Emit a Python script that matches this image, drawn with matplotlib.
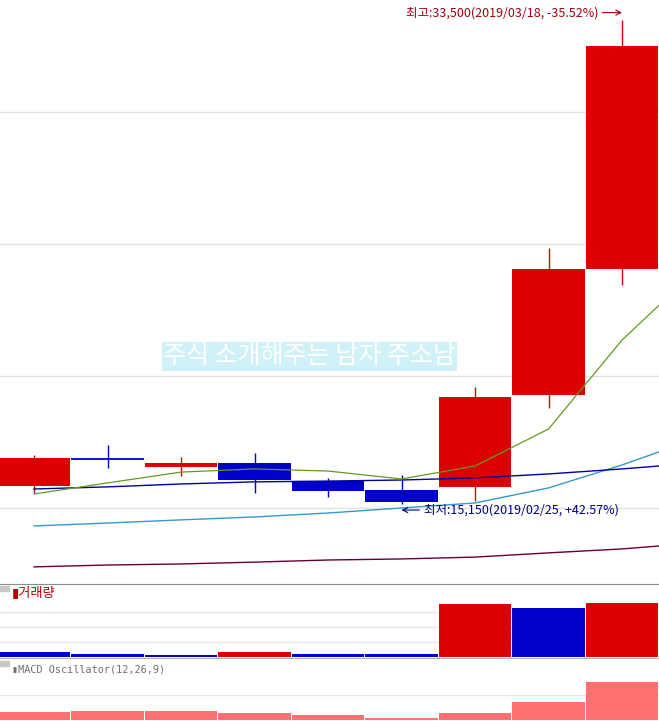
import matplotlib
matplotlib.use("Agg")
import matplotlib.pyplot as plt
from matplotlib.patches import Rectangle
from matplotlib.transforms import offset_copy

# weekly candles, 2019/01/21 .. 2019/03/18
weeks = ["2019/01/21", "2019/01/28", "2019/02/04", "2019/02/11", "2019/02/18",
         "2019/02/25", "2019/03/04", "2019/03/11", "2019/03/18"]
opens = [15850, 16850, 16550, 16700, 16020, 15680, 15800, 19280, 24050]
closes = [16900, 16850, 16700, 16060, 15650, 15230, 19200, 24050, 32500]
highs = [17000, 17400, 16950, 17100, 16150, 16250, 19600, 24850, 33500]
lows = [15550, 16500, 16200, 15550, 15400, 15150, 15250, 18800, 23450]
prev_close = 16950
last_price = 21600

# moving averages (last value belongs to the following week, off screen)
ma5 = [15530, 15950, 16360, 16480, 16400, 16100, 16590, 17990, 21360, 23980]
ma20 = [15720, 15800, 15910, 15990, 16020, 16060, 16140, 16290, 16480, 16700]
ma60 = [14320, 14430, 14550, 14660, 14810, 15000, 15190, 15760, 16630, 17610]
ma120 = [12770, 12840, 12880, 12950, 13030, 13070, 13140, 13300, 13450, 13670]

# volume in thousand shares
volumes = [100, 60, 40, 100, 60, 60, 1060, 980, 1080]
prev_volume = 120

macd_osc = [160, 180, 180, 140, 110, 40, 140, 360, 760]

UP = "#DD0000"
DOWN = "#0000C8"
W, H = 659, 721


def main() -> int:
    plt.rcParams["font.family"] = ["Noto Sans CJK KR", "DejaVu Sans"]
    fig = plt.figure(figsize=(W / 100, H / 100), dpi=100)
    fig.patch.set_facecolor("white")

    ax = fig.add_axes([0, 137 / H, 1, 584 / H])
    ax_v = fig.add_axes([0, 63 / H, 1, 74 / H])
    ax_m = fig.add_axes([0, 0, 1, 63 / H])

    xlim = (-34 / 73.5, 625 / 73.5)
    for a in (ax, ax_v, ax_m):
        a.set_xlim(*xlim)
        a.tick_params(length=0, labelleft=False, labelbottom=False)
        a.set_xticks([])
        for s in a.spines.values():
            s.set_visible(False)
        a.set_axisbelow(True)

    # price panel
    ax.set_ylim(12121, 34243)
    ax.set_yticks([15000, 20000, 25000, 30000])
    ax.grid(axis="y", color="#E2E2E2", lw=1)

    prev = prev_close
    for i, (o, c, h, l) in enumerate(zip(opens, closes, highs, lows)):
        if c > o:
            color = UP
        elif c < o:
            color = DOWN
        else:
            color = UP if c > prev else DOWN
        ax.vlines(i, l, h, color=color, lw=1, zorder=2)
        if o == c:
            ax.hlines(c, i - 0.49, i + 0.49, color=color, lw=1.3, zorder=3)
        else:
            ax.bar(i, abs(c - o), bottom=min(o, c), width=0.98, color=color, lw=0, zorder=3)
        prev = c

    xs = range(len(ma5))
    ax.plot(xs, ma120, color="#660033", lw=1, zorder=4)
    ax.plot(xs, ma60, color="#3399CC", lw=1, zorder=4)
    ax.plot(xs, ma20, color="#0000A0", lw=1, zorder=4)
    ax.plot(xs, ma5, color="#669922", lw=0.9, zorder=5)

    # high / low marks
    hi_idx = highs.index(max(highs))
    hi = highs[hi_idx]
    hi_pct = (last_price - hi) / hi * 100
    hi_color = "#A00010"
    ax.annotate(f"최고:{hi:,}({weeks[hi_idx]}, {hi_pct:.2f}%)",
                xy=(hi_idx, hi), xycoords=offset_copy(ax.transData, fig=fig, y=7, units="dots"),
                xytext=(-24, 0), textcoords="offset pixels", ha="right", va="center",
                fontsize=9, color=hi_color, zorder=6,
                arrowprops=dict(arrowstyle="->", color=hi_color, lw=0.8,
                                shrinkA=1, shrinkB=0, relpos=(1, 0.5)))

    lo_idx = lows.index(min(lows))
    lo = lows[lo_idx]
    lo_pct = (last_price - lo) / lo * 100
    lo_color = "#000080"
    ax.annotate(f"최저:{lo:,}({weeks[lo_idx]}, +{lo_pct:.2f}%)",
                xy=(lo_idx, lo), xycoords=offset_copy(ax.transData, fig=fig, y=-6, units="dots"),
                xytext=(22, 0), textcoords="offset pixels", ha="left", va="center",
                fontsize=9, color=lo_color, zorder=6,
                arrowprops=dict(arrowstyle="->", color=lo_color, lw=0.8,
                                shrinkA=1, shrinkB=0, relpos=(0, 0.5)))

    fig.text(309.5 / W, 1 - 356 / H, "주식 소개해주는 남자 주소남", color="white",
             fontsize=18, ha="center", va="center",
             bbox=dict(boxstyle="square,pad=0.06", fc="#D0F1F8", ec="none"))

    # volume panel
    ax_v.set_ylim(-20, 1460)
    ax_v.set_yticks([300, 600, 900])
    ax_v.grid(axis="y", color="#E6E6E6", lw=1)
    vcolors = []
    pv = prev_volume
    for v in volumes:
        vcolors.append(UP if v > pv else DOWN)
        pv = v
    ax_v.bar(range(len(volumes)), volumes, width=0.98, color=vcolors, lw=0)
    ax_v.spines["top"].set_visible(True)
    ax_v.spines["top"].set_color("#8C8C8C")

    # macd oscillator panel
    ax_m.set_ylim(-20, 1240)
    ax_m.set_yticks([500])
    ax_m.grid(axis="y", color="#E6E6E6", lw=1)
    ax_m.bar(range(len(macd_osc)), macd_osc, width=0.98, color="#FF7070", lw=0)
    ax_m.spines["top"].set_visible(True)
    ax_m.spines["top"].set_color("#B4B4B4")
    ax_m.spines["bottom"].set_visible(True)
    ax_m.spines["bottom"].set_color("#B4B4B4")

    # panel tabs and titles
    for top in (586, 661):
        fig.patches.append(Rectangle((0, 1 - (top + 5) / H), 9 / W, 5 / H,
                                     transform=fig.transFigure, color="#C8C8C8"))
    fig.text(12 / W, 1 - 593 / H, "▮거래량", color="#B00000", fontsize=9.5, va="center")
    fig.text(12 / W, 1 - 669 / H, "▮MACD Oscillator(12,26,9)", color="#707070",
             fontsize=7.3, va="center", family="DejaVu Sans Mono")

    fig.savefig("out.png", dpi=100)
    return 0


if __name__ == "__main__":
    raise SystemExit(main())
